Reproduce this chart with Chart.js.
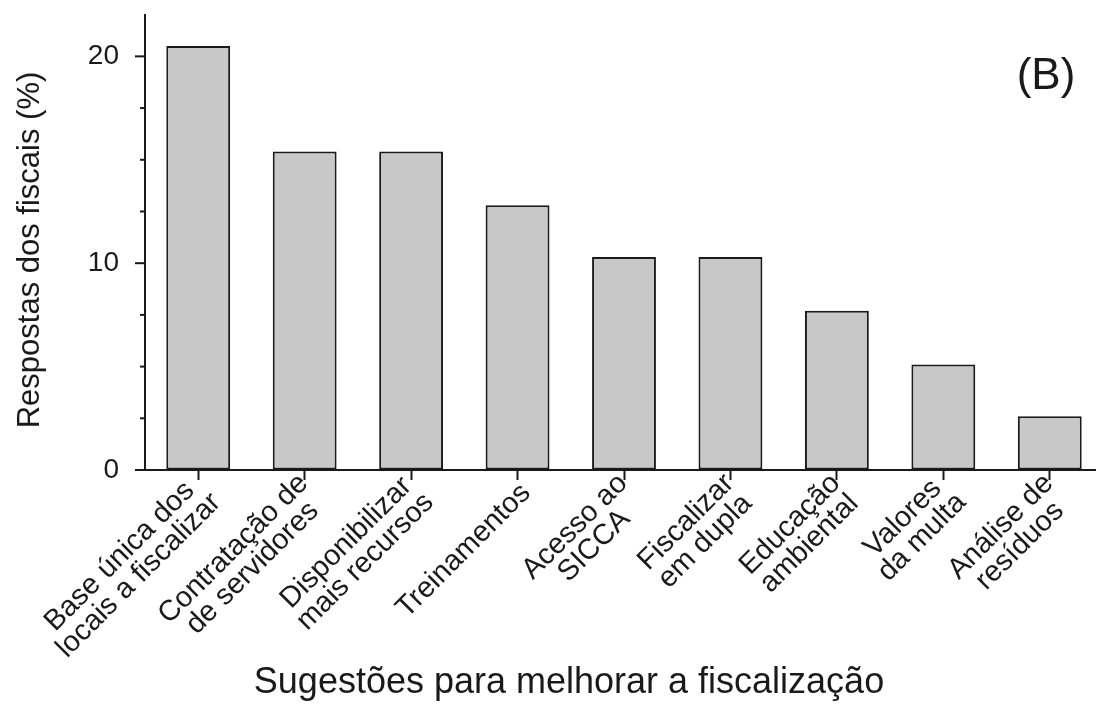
<!DOCTYPE html>
<html>
<head>
<meta charset="utf-8">
<script src="https://cdn.jsdelivr.net/npm/chart.js@4/dist/chart.umd.min.js"></script>
<style>
  html, body { margin: 0; padding: 0; background: #fff; overflow: hidden; }
  #wrap { width: 1104px; height: 726px; }
</style>
</head>
<body>
<div id="wrap"><canvas id="chart" width="1104" height="726"></canvas></div>
<script>
  // categories (two lines each, drawn rotated under the bars)
  const categories = [
    ['Base única dos', 'locais a fiscalizar'],
    ['Contratação de', 'de servidores'],
    ['Disponibilizar', 'mais recursos'],
    ['Treinamentos'],
    ['Acesso ao', 'SICCA'],
    ['Fiscalizar', 'em dupla'],
    ['Educação', 'ambiental'],
    ['Valores', 'da multa'],
    ['Análise de', 'resíduos']
  ];
  // % of answers
  const respostas = [20.5, 15.4, 15.4, 12.8, 10.3, 10.3, 7.7, 5.1, 2.6];
  const majorTicks = [0, 10, 20];

  const INK = '#1a1a1a';
  const FONT = '"Liberation Sans", Arial, sans-serif';

  const decorPlugin = {
    id: 'decor',
    afterDraw(chart) {
      const ctx = chart.ctx;
      const x = chart.scales.x;
      const y = chart.scales.y;
      ctx.save();
      ctx.strokeStyle = INK;
      ctx.fillStyle = INK;

      // y ticks: major 10px, minor 5px
      ctx.lineWidth = 2;
      y.ticks.forEach(t => {
        if (t.value % 2.5 !== 0 || t.value > 20) return;
        const py = y.getPixelForValue(t.value);
        const len = majorTicks.includes(t.value) ? 10 : 5;
        ctx.beginPath();
        ctx.moveTo(y.right - len, py);
        ctx.lineTo(y.right, py);
        ctx.stroke();
      });

      // rotated category labels
      ctx.font = '29px ' + FONT;
      ctx.textAlign = 'center';
      ctx.textBaseline = 'middle';
      const lh = 27;
      categories.forEach((lines, i) => {
        const px = x.getPixelForTick(i);
        const ax = px + 8.5;
        const ay = x.top + 18.5;
        const w = Math.max(...lines.map(l => ctx.measureText(l).width));
        ctx.save();
        ctx.translate(ax, ay);
        ctx.rotate(-Math.PI / 4);
        lines.forEach((l, k) => {
          ctx.fillText(l, -w / 2, (k - (lines.length - 1) / 2) * lh);
        });
        ctx.restore();
      });

      // y axis title
      ctx.font = '31px ' + FONT;
      ctx.save();
      ctx.translate(30, 250);
      ctx.rotate(-Math.PI / 2);
      ctx.fillText('Respostas dos fiscais (%)', 0, 0);
      ctx.restore();

      // x axis title
      ctx.font = '36px ' + FONT;
      ctx.fillText('Sugestões para melhorar a fiscalização', 569, 683);

      // panel letter
      ctx.font = '44px ' + FONT;
      ctx.fillText('(B)', 1046, 77);
      ctx.restore();
    }
  };

  new Chart(document.getElementById('chart'), {
    type: 'bar',
    data: {
      labels: categories,
      datasets: [{
        data: respostas,
        backgroundColor: '#c8c8c8',
        borderColor: INK,
        borderWidth: 2,
        borderSkipped: false,
        barPercentage: 0.6,
        categoryPercentage: 1
      }]
    },
    options: {
      responsive: false,
      animation: false,
      layout: { padding: { top: 15, left: 0, right: 1, bottom: 0 } },
      plugins: { legend: { display: false }, tooltip: { enabled: false } },
      scales: {
        x: {
          offset: true,
          grid: {
            offset: false,
            drawOnChartArea: false,
            drawTicks: true,
            tickLength: 10,
            tickWidth: 2,
            tickColor: INK
          },
          border: { display: true, color: INK, width: 2 },
          ticks: { display: false },
          afterFit: s => { s.height = 256; s.paddingLeft = 0; s.paddingRight = 0; }
        },
        y: {
          min: 0,
          max: 22,
          grid: { drawOnChartArea: false, drawTicks: false },
          border: { display: true, color: INK, width: 2 },
          ticks: {
            stepSize: 2.5,
            autoSkip: false,
            padding: 26,
            color: INK,
            font: { family: FONT, size: 28 },
            callback: v => (majorTicks.includes(v) ? String(v) : '')
          },
          afterFit: s => { s.width = 145; s.paddingTop = 0; s.paddingBottom = 0; }
        }
      }
    },
    plugins: [decorPlugin]
  });
</script>
</body>
</html>
